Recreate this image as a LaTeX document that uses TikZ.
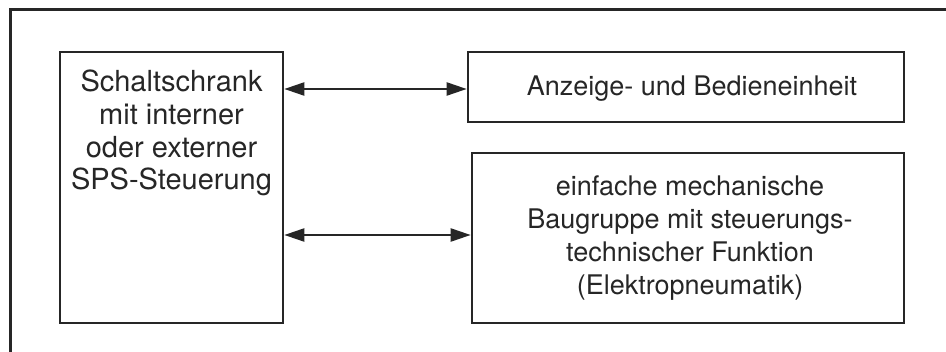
\documentclass[tikz,border=0pt]{standalone}
\usepackage{fontspec}
\setmainfont{TeX Gyre Heros}
\usetikzlibrary{arrows.meta}
\begin{document}
\begin{tikzpicture}[x=1pt,y=-1pt,
  box/.style={draw=black!85, line width=2.6pt, inner sep=0pt},
  txt/.style={align=center, font=\fontsize{27}{33}\selectfont, inner sep=0pt, text=black!85},
  bigtxt/.style={align=center, font=\fontsize{29}{32.7}\selectfont, inner sep=0pt, text=black!85},
  link/.style={line width=2.2pt, draw=black!85, {Triangle[length=20pt,width=13pt]}-{Triangle[length=20pt,width=13pt]}}]
\useasboundingbox (0,0) rectangle (946,352);
\clip (0,0) rectangle (946,352);
\draw[line width=3pt, draw=black!85] (10,10) rectangle (990,400);
\node[box, minimum width=223pt, minimum height=271pt] (ctrl) at (171.5,187.5) {};
\node[box, minimum width=436pt, minimum height=70pt] (hmi) at (686,87) {};
\node[box, minimum width=432pt, minimum height=170pt] (mech) at (688,238) {};
\node[bigtxt] (ctrltxt) at (171.5,133) {Schaltschrank\\mit interner\\oder externer\\SPS-Steuerung};
\node[txt] (hmitxt) at (692,89) {Anzeige- und Bedieneinheit};
\node[txt] (mechtxt) at (690,238) {einfache mechanische\\Baugruppe mit steuerungs-\\technischer Funktion\\(Elektropneumatik)};
\draw[link] (ctrl.east |- 0,89) -- (hmi.west |- 0,89);
\draw[link] (ctrl.east |- 0,235) -- (mech.west |- 0,235);
\end{tikzpicture}
\end{document}
